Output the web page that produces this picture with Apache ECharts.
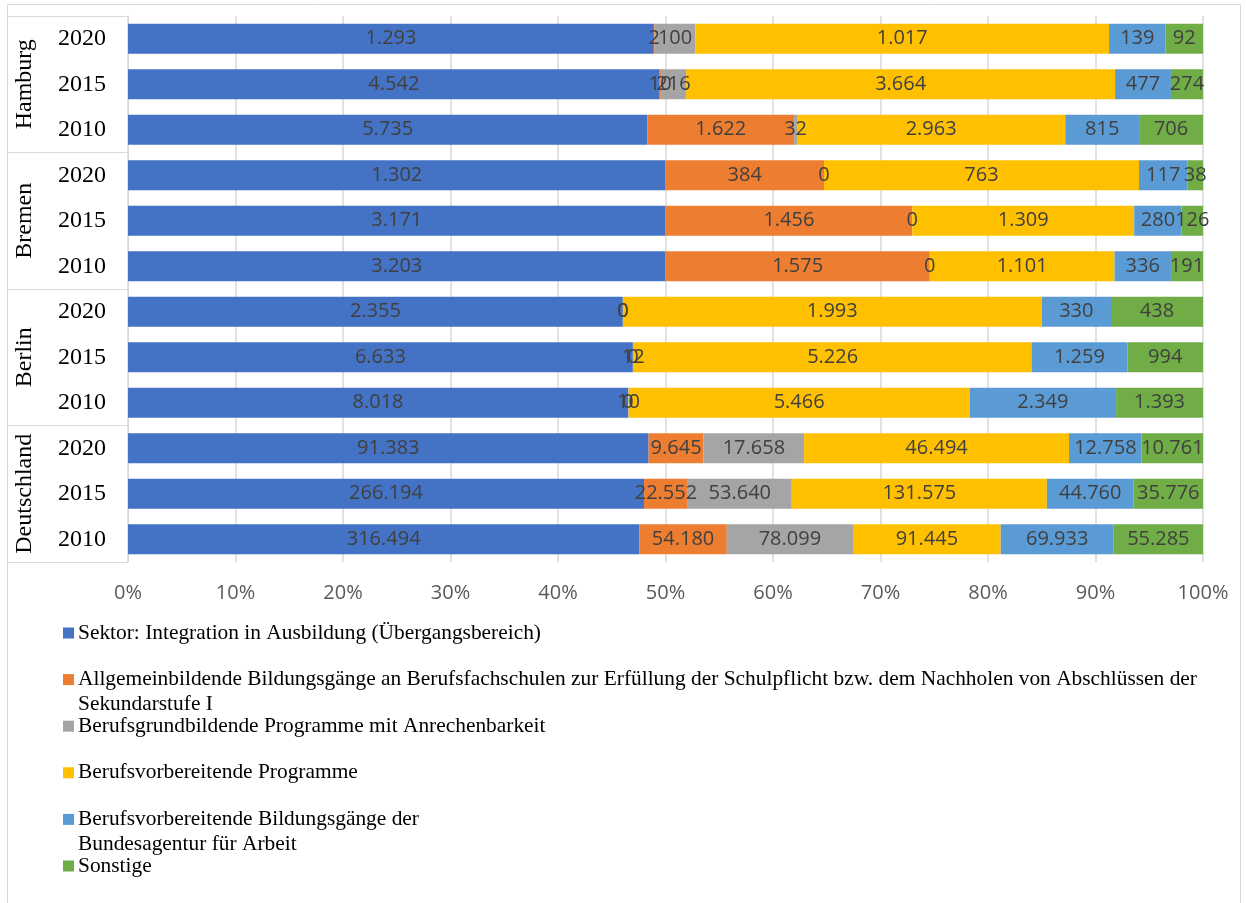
<!DOCTYPE html>
<html>
<head>
<meta charset="utf-8">
<script src="https://cdn.jsdelivr.net/npm/echarts@6/dist/echarts.min.js"></script>
<style>
    html, body { margin: 0; padding: 0; background: #fff; }
    #chart { width: 1246px; height: 903px; }
</style>
</head>
<body>
<div id="chart"></div>
<script>
// Zeilen von oben nach unten
var groups = ['Hamburg', 'Bremen', 'Berlin', 'Deutschland'];
var years = ['2020', '2015', '2010', '2020', '2015', '2010', '2020', '2015', '2010', '2020', '2015', '2010'];
var xTicks = [0, 100, 10]; // min, max, interval (Prozent)

var seriesNames = [
    'Sektor: Integration in Ausbildung (Übergangsbereich)',
    'Allgemeinbildende Bildungsgänge an Berufsfachschulen zur Erfüllung der Schulpflicht bzw. dem Nachholen von Abschlüssen der\nSekundarstufe I',
    'Berufsgrundbildende Programme mit Anrechenbarkeit',
    'Berufsvorbereitende Programme',
    'Berufsvorbereitende Bildungsgänge der\nBundesagentur für Arbeit',
    'Sonstige'
];

var sektor     = [1293, 4542, 5735, 1302, 3171, 3203, 2355, 6633, 8018, 91383, 266194, 316494];
var allgemein  = [2, 10, 1622, 384, 1456, 1575, 0, 0, 0, 9645, 22552, 54180];
var grund      = [100, 216, 32, 0, 0, 0, 0, 12, 10, 17658, 53640, 78099];
var vorbereit  = [1017, 3664, 2963, 763, 1309, 1101, 1993, 5226, 5466, 46494, 131575, 91445];
var bundesag   = [139, 477, 815, 117, 280, 336, 330, 1259, 2349, 12758, 44760, 69933];
var sonstige   = [92, 274, 706, 38, 126, 191, 438, 994, 1393, 10761, 35776, 55285];

var colors = ['#4472C4', '#ED7D31', '#A5A5A5', '#FFC000', '#5B9BD5', '#70AD47'];

var values = [sektor, allgemein, grund, vorbereit, bundesag, sonstige];
var totals = years.map(function (y, j) {
    var s = 0;
    values.forEach(function (arr) { s += arr[j]; });
    return s;
});

function fmt(v) {
    return String(v).replace(/\B(?=(\d{3})+(?!\d))/g, '.');
}

var numFont = 'Open Sans';
var serif = 'Liberation Serif';

var rich = {
    t: { fontFamily: serif, fontSize: 21.4, color: '#000', lineHeight: 25, padding: [0, 0, 0, 4], verticalAlign: 'middle' },
    ind: { width: 11, height: 11, lineHeight: 25, verticalAlign: 'middle' }
};
colors.forEach(function (c, i) {
    rich['sq' + i] = { width: 11, height: 11, lineHeight: 25, backgroundColor: c, verticalAlign: 'middle' };
});

var chart = echarts.init(document.getElementById('chart'));
chart.setOption({
    animation: false,
    graphic: [{
        type: 'rect',
        silent: true,
        shape: { x: 7.5, y: 4.5, width: 1233, height: 920 },
        style: { fill: 'none', stroke: '#d9d9d9', lineWidth: 1 }
    }],
    grid: { left: 128, right: 43, top: 16, bottom: 341 },
    legend: {
        orient: 'vertical',
        left: 58,
        top: 622.5,
        padding: 0,
        itemGap: 0.6,
        itemWidth: 0,
        itemHeight: 0,
        selectedMode: false,
        data: seriesNames,
        formatter: function (name) {
            var i = seriesNames.indexOf(name);
            var lines = name.split('\n');
            return '{sq' + i + '|}{t|' + lines[0] + '}\n{ind|}{t|' + (lines[1] || ' ') + '}';
        },
        textStyle: { fontFamily: serif, fontSize: 21.4, color: '#000', rich: rich }
    },
    xAxis: {
        type: 'value',
        min: xTicks[0],
        max: xTicks[1],
        interval: xTicks[2],
        axisLine: { show: false },
        axisTick: { show: false },
        splitLine: { lineStyle: { color: '#d9d9d9', width: 1.5 } },
        axisLabel: { formatter: '{value}%', fontFamily: numFont, fontSize: 20, color: '#595959', margin: 21 }
    },
    yAxis: [
        {
            type: 'category',
            data: years,
            inverse: true,
            position: 'left',
            axisLine: { show: true, lineStyle: { color: '#d9d9d9', width: 1 } },
            axisTick: { show: false },
            axisLabel: { interval: 0, fontFamily: serif, fontSize: 24, color: '#000', margin: 22 }
        },
        {
            type: 'category',
            data: groups,
            inverse: true,
            position: 'left',
            axisLine: { show: false },
            axisTick: { show: true, interval: 0, length: 120, lineStyle: { color: '#d9d9d9', width: 1 } },
            axisLabel: { interval: 0, rotate: 90, margin: 91, fontFamily: serif, fontSize: 24, color: '#000' }
        }
    ],
    series: values.map(function (arr, i) {
        return {
            name: seriesNames[i],
            type: 'bar',
            stack: 'total',
            barWidth: 30,
            yAxisIndex: 0,
            silent: true,
            itemStyle: { color: colors[i] },
            label: {
                show: true,
                position: 'inside',
                fontFamily: numFont,
                fontSize: 20,
                color: '#404040',
                formatter: function (p) { return fmt(arr[p.dataIndex]); }
            },
            data: arr.map(function (v, j) { return v / totals[j] * 100; })
        };
    })
});
</script>
</body>
</html>
